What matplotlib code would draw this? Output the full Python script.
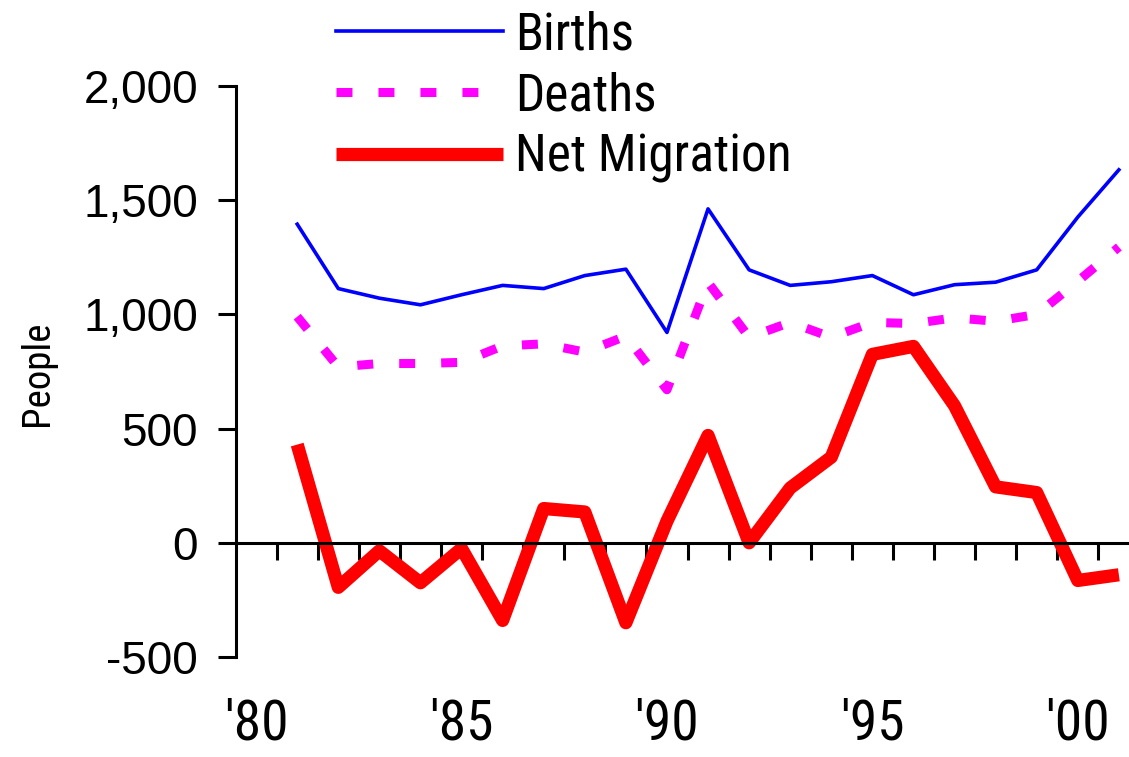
import matplotlib.pyplot as plt
from matplotlib.font_manager import FontProperties
from matplotlib.ticker import FuncFormatter

# Values (people per year)
years = list(range(1981, 2002))
births = [1395, 1113, 1071, 1042, 1086, 1127, 1113, 1170, 1198, 921, 1462,
          1195, 1127, 1143, 1170, 1086, 1130, 1141, 1195, 1426, 1633]
deaths = [990, 770, 785, 785, 790, 862, 871, 835, 905, 670, 1140,
          900, 965, 900, 965, 960, 985, 970, 1000, 1145, 1295]
net_migration = [430, -195, -35, -175, -25, -340, 150, 135, -350, 95, 470,
                 0, 240, 375, 825, 860, 600, 245, 220, -165, -140]
label_years = [1980, 1985, 1990, 1995, 2000]
label_text = ["'80", "'85", "'90", "'95", "'00"]
y_ticks = [-500, 0, 500, 1000, 1500, 2000]

# condensed face if one is installed, otherwise plain Liberation Sans
narrow = ['Liberation Sans Narrow', 'Roboto Condensed', 'Noto Sans Condensed',
          'Open Sans Condensed', 'DejaVu Sans Condensed', 'Liberation Sans']
regular = ['Liberation Sans', 'DejaVu Sans']

W, H = 1129, 757
fig = plt.figure(figsize=(W / 100, H / 100), dpi=100)
# axes runs a bit past the right edge, as in the cropped original
ax = fig.add_axes([235.6 / W, 100 / H, 903.8 / W, 571 / H])

ax.plot(years, births, color='#0000ff', lw=2.6, label='Births')
ax.plot(years, deaths, color='#ff00ff', lw=6.5, linestyle=(0, (1.77, 2.88)),
        label='Deaths')
ax.plot(years, net_migration, color='#ff0000', lw=9.5, solid_capstyle='butt',
        label='Net Migration')

ax.set_xlim(1979.5, 2001.5)
ax.set_ylim(-500, 2000)

for s in ['top', 'right']:
    ax.spines[s].set_visible(False)
ax.spines['left'].set_linewidth(2.2)
ax.spines['bottom'].set_linewidth(2.2)
ax.spines['bottom'].set_position(('data', 0))

# y axis
ax.set_yticks(y_ticks)
ax.yaxis.set_major_formatter(FuncFormatter(lambda v, p: f'{int(v):,}'))
ax.tick_params(axis='y', direction='out', length=13, width=2.2, pad=14)
for t in ax.get_yticklabels():
    t.set_fontfamily(regular)
    t.set_fontsize(33)
ax.set_ylabel('People', fontsize=28, family=narrow, fontstretch='condensed')
ax.yaxis.set_label_coords((56 - 235.6) / 903.8, 0.497)

# x axis: tick marks between categories on the zero line, labels at the bottom
ax.set_xticks([y + 0.5 for y in range(1980, 2002)])
ax.set_xticklabels([])
ax.tick_params(axis='x', direction='out', length=12, width=2.2)

sec = ax.secondary_xaxis('bottom')
sec.set_xticks(label_years)
sec.set_xticklabels(label_text)
sec.spines['bottom'].set_visible(False)
sec.tick_params(axis='x', length=0, pad=29)
for t in sec.get_xticklabels():
    t.set_fontfamily(narrow)
    t.set_fontstretch('condensed')
    t.set_fontsize(40)

fig.legend(loc='upper left', bbox_to_anchor=(336 / W, 1 - 10 / H),
           frameon=False, borderpad=0, borderaxespad=0,
           handlelength=3.25, handletextpad=0.24, labelspacing=0.22,
           prop=FontProperties(family=narrow, stretch='condensed', size=37))

fig.savefig('out.png', dpi=100)
